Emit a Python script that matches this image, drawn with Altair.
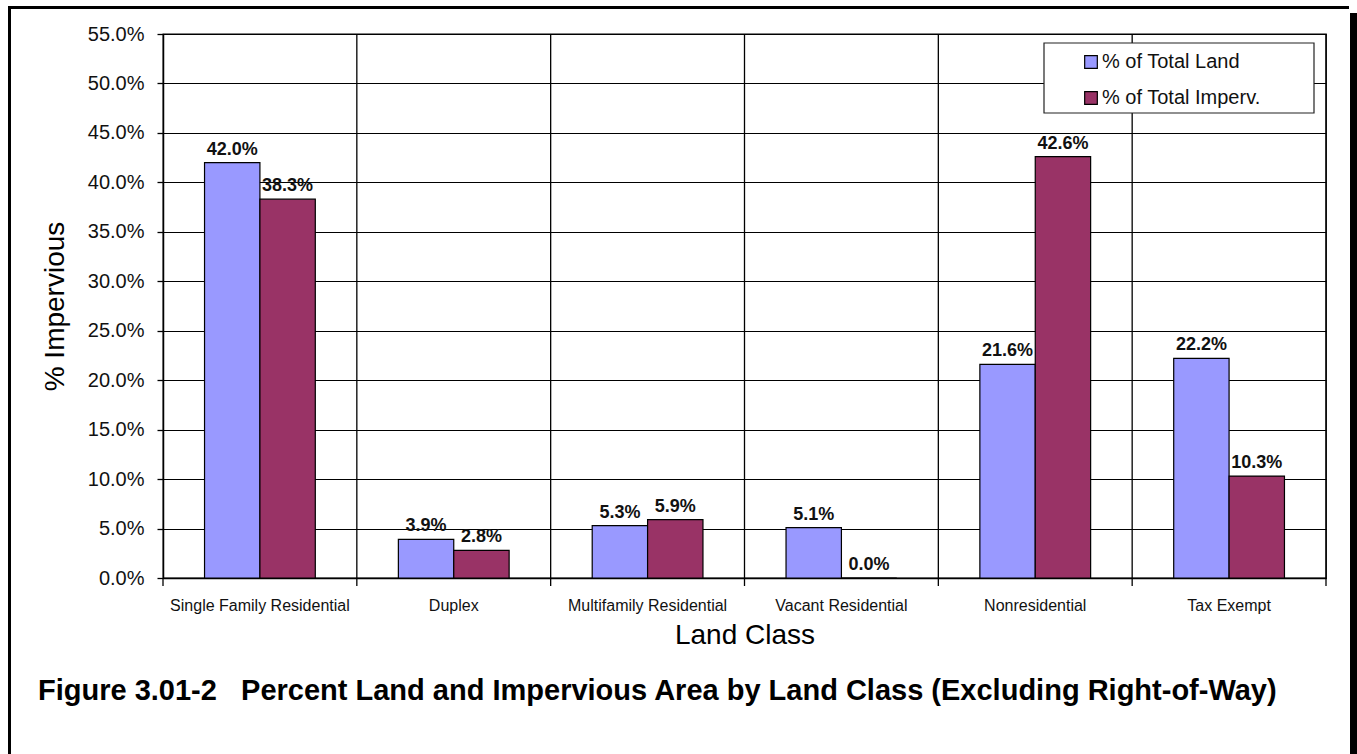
import altair as alt
import pandas as pd

categories = ["Single Family Residential", "Duplex", "Multifamily Residential",
              "Vacant Residential", "Nonresidential", "Tax Exempt"]
series = ["% of Total Land", "% of Total Imperv."]
total_land = [0.420, 0.039, 0.053, 0.051, 0.216, 0.222]
total_imperv = [0.383, 0.028, 0.059, 0.000, 0.426, 0.103]
y_ticks = [i * 0.05 for i in range(12)]
caption = "Figure 3.01-2\u00a0\u00a0\u00a0Percent Land and Impervious Area by Land Class (Excluding Right-of-Way)"

rows = []
for c, a, b in zip(categories, total_land, total_imperv):
    rows.append({"cat": c, "series": series[0], "value": a})
    rows.append({"cat": c, "series": series[1], "value": b})
df = pd.DataFrame(rows)

FONT = "Liberation Sans"
W, H = 1163, 544

x_enc = alt.X("cat:N", sort=categories,
              scale=alt.Scale(paddingInner=0, paddingOuter=0),
              axis=alt.Axis(title="Land Class", labelAngle=0, ticks=False,
                            labelAlign="center", bandPosition=0.5,
                            labelFontSize=16, labelPadding=19, labelColor="#111",
                            titleFontSize=28, titleFontWeight="normal", titlePadding=8,
                            titleColor="#000", domainColor="#000", domainWidth=1.5,
                            grid=False))
y_enc = alt.Y("value:Q",
              scale=alt.Scale(domain=[0, 0.55], nice=False),
              axis=alt.Axis(title="% Impervious", format=".1%", values=y_ticks,
                            labelFontSize=20, labelPadding=13, labelColor="#111",
                            tickSize=6, tickColor="#000", tickWidth=1.3,
                            titleFontSize=28, titleFontWeight="normal", titlePadding=18,
                            titleColor="#000", domainColor="#000", domainWidth=1.5,
                            grid=True, gridColor="#000", gridWidth=1.2, gridOpacity=1))
xoff = alt.XOffset("series:N", sort=series,
                   scale=alt.Scale(paddingInner=0, paddingOuter=0.75))
color = alt.Color("series:N", sort=series,
                  scale=alt.Scale(domain=series, range=["#9999FF", "#993366"]),
                  legend=alt.Legend(title=None, orient="none", legendX=881, legendY=10,
                                    padding=8, symbolType="square", symbolSize=160,
                                    symbolStrokeColor="#000", symbolStrokeWidth=1.2,
                                    symbolOffset=29, labelFontSize=20, labelColor="#111",
                                    labelFont=FONT, rowPadding=16, labelOffset=1,
                                    labelLimit=400))

bars = alt.Chart(df).mark_bar(stroke="#000", strokeWidth=1.2).encode(
    x=x_enc, y=y_enc, xOffset=xoff, color=color)

labels = alt.Chart(df).mark_text(fontWeight="bold", fontSize=18, baseline="alphabetic",
                                 dy=-8, font=FONT, color="#111").encode(
    x=alt.X("cat:N", sort=categories), y="value:Q", xOffset=xoff,
    text=alt.Text("value:Q", format=".1%"))

vlines = alt.Chart(pd.DataFrame({"cat": categories[1:]})).mark_rule(
    color="#000", strokeWidth=1.3).encode(
    x=alt.X("cat:N", sort=categories, bandPosition=0),
    y=alt.value(0), y2=alt.value(H + 8))

edge = alt.Chart(alt.Data(values=[{"k": 0}])).mark_rule(
    color="#000", strokeWidth=1.3).encode(
    x=alt.value(0), y=alt.value(H), y2=alt.value(H + 8))
edge2 = alt.Chart(alt.Data(values=[{"k": 0}])).mark_rule(
    color="#000", strokeWidth=1.3).encode(
    x=alt.value(W), y=alt.value(0), y2=alt.value(H + 8))

legend_box = alt.Chart(alt.Data(values=[{"k": 0}])).mark_rect(
    fill="#fff", stroke="#222", strokeWidth=1.2).encode(
    x=alt.value(881), x2=alt.value(1151), y=alt.value(9), y2=alt.value(79))

cap = alt.Chart(alt.Data(values=[{"t": caption}])).mark_text(
    font=FONT, fontSize=29, fontWeight="bold", align="left", baseline="alphabetic",
    color="#000").encode(
    x=alt.value(-125), y=alt.value(666), text="t:N")

frame_left = alt.Chart(alt.Data(values=[{"k": 0}])).mark_rule(
    color="#000", strokeWidth=3).encode(
    x=alt.value(-153.5), y=alt.value(-27), y2=alt.value(720))
frame_top = alt.Chart(alt.Data(values=[{"k": 0}])).mark_rule(
    color="#000", strokeWidth=3).encode(
    x=alt.value(-155), x2=alt.value(1186), y=alt.value(-26.5))
frame_right = alt.Chart(alt.Data(values=[{"k": 0}])).mark_rule(
    color="#000", strokeWidth=7).encode(
    x=alt.value(1190.5), y=alt.value(-21), y2=alt.value(720))

chart = alt.layer(bars, vlines, edge, edge2, labels, legend_box, cap,
                  frame_left, frame_top, frame_right).properties(
    width=W, height=H,
    autosize=alt.AutoSizeParams(type="none"),
    padding={"left": 163, "top": 34, "right": 31, "bottom": 176},
).configure(font=FONT, background="#fff").configure_view(
    stroke="#000", strokeWidth=1.3
).configure_axis(labelFont=FONT, titleFont=FONT)

chart.save("out.html", embed_options={"renderer": "svg", "actions": False})
